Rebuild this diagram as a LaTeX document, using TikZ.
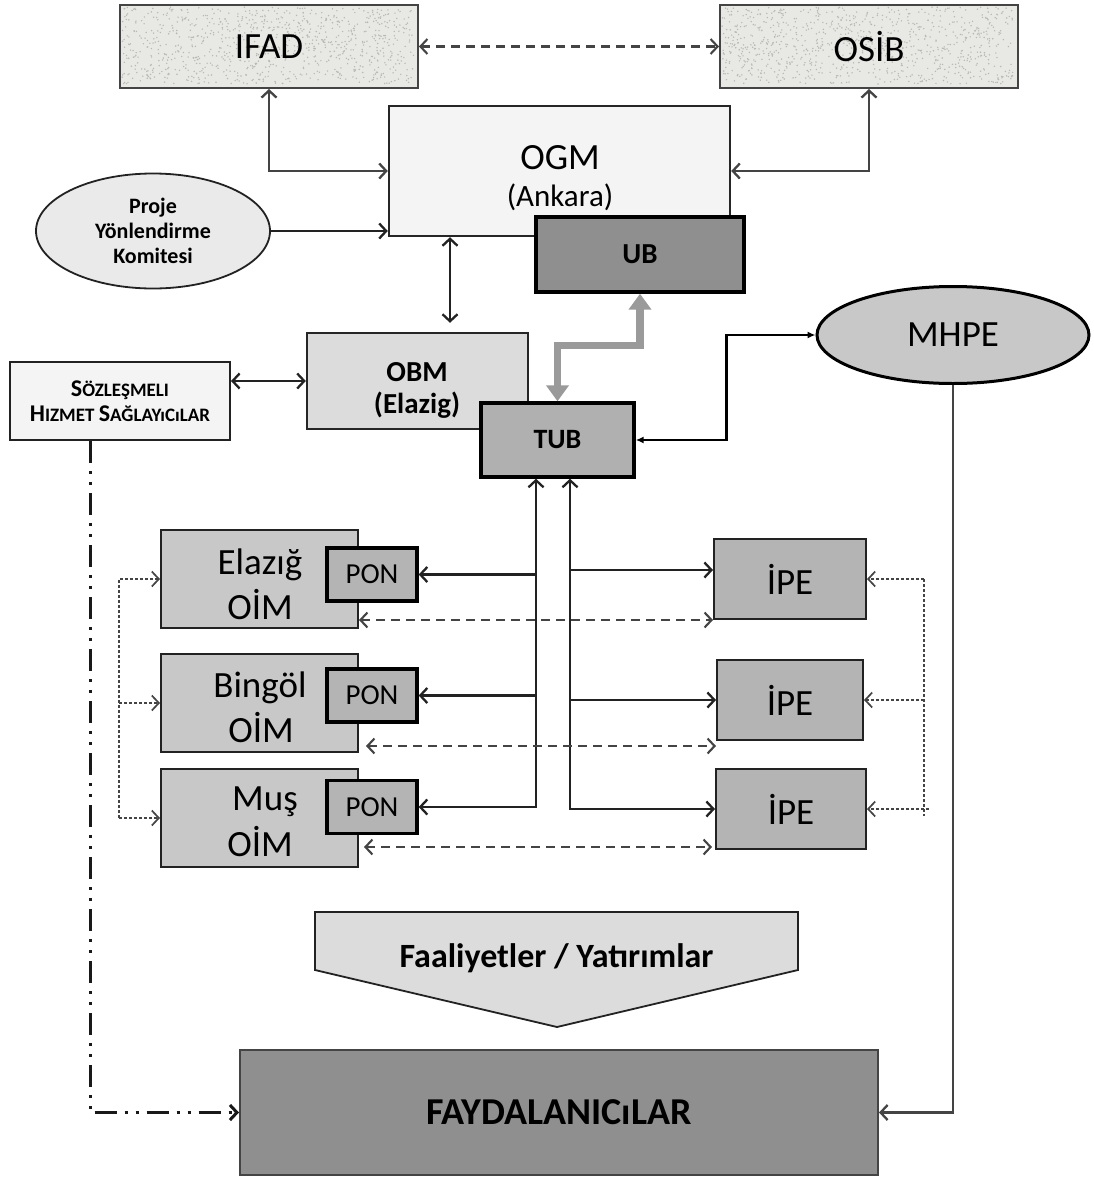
\documentclass[tikz,border=0pt]{standalone}
\usepackage{fontspec}
\setmainfont{Carlito}
\usetikzlibrary{arrows.meta,calc,shapes.geometric}
\definecolor{cifad}{HTML}{E8E8E4}
\definecolor{cogm}{HTML}{F4F4F4}
\definecolor{cub}{HTML}{8F8F8F}
\definecolor{cobm}{HTML}{DCDCDC}
\definecolor{ctub}{HTML}{B0B0B0}
\definecolor{coim}{HTML}{C8C8C8}
\definecolor{cpon}{HTML}{B4B4B4}
\definecolor{cipe}{HTML}{B4B4B4}
\definecolor{cfaal}{HTML}{DCDCDC}
\definecolor{cfayd}{HTML}{8F8F8F}
\definecolor{cfat}{HTML}{9A9A9A}
\definecolor{cline}{HTML}{222222}
\definecolor{cgline}{HTML}{444444}
\definecolor{cspeck}{HTML}{B8B8B4}
\begin{document}
\begin{tikzpicture}[x=1pt,y=-1pt,
  box/.style={draw=cline, rectangle, inner sep=0pt, align=center, line width=2pt},
  heavy/.style={draw=black, line width=3.4pt},
  big/.style={font=\fontsize{37}{40}\selectfont},
  mid/.style={font=\fontsize{37}{40}\selectfont},
  txt/.style={inner sep=0pt},
  ln/.style={draw=cline, line width=2.3pt},
  gln/.style={draw=cgline, line width=2.3pt},
  dashln/.style={draw=cgline, line width=2.1pt, dash pattern=on 9pt off 6pt},
  dotln/.style={draw=cgline, line width=1.7pt, dash pattern=on 3pt off 2pt},
  ar/.style={-{Straight Barb[length=7pt,width=15pt]}},
  arr/.style={{Straight Barb[length=7pt,width=15pt]}-{Straight Barb[length=7pt,width=15pt]}},
]
\useasboundingbox[fill=white] (0,0) rectangle (1094,1178);

% top boxes (textured)
\node[box, fill=cifad, draw=cgline, minimum width=298pt, minimum height=83pt] (ifad) at (269,46.5) {};
\node[box, fill=cifad, draw=cgline, minimum width=298pt, minimum height=83pt] (osib) at (869,46.5) {};
\pgfmathsetseed{11}
\foreach \k in {1,...,900}{
  \fill[cspeck] ($(ifad.north west)+(3+rnd*292,3+rnd*77)$) circle (0.8pt);
  \fill[cspeck] ($(osib.north west)+(3+rnd*292,3+rnd*77)$) circle (0.8pt);
}
\node[txt, big] (ifadt) at (ifad) {IFAD};
\node[txt, big] (osibt) at (osib) {OSİB};

% OGM and UB
\node[box, fill=cogm, draw=black!85, line width=2.4pt, minimum width=341pt, minimum height=130pt] (ogm) at (559.5,171) {};
\node[txt, font=\fontsize{37}{40}\selectfont] (ogmt1) at (560,158) {OGM};
\node[txt, font=\fontsize{31}{36}\selectfont] (ogmt2) at (560,197) {(Ankara)};
\node[box, heavy, fill=cub, minimum width=208pt, minimum height=75pt, font=\bfseries\fontsize{29}{32}\selectfont] (ub) at (640,254.5) {UB};

% Proje ellipse
\node[draw=cline, line width=1.8pt, ellipse, fill=cogm!60!cobm, minimum width=234pt, minimum height=115pt, inner sep=0pt, align=center, font=\bfseries\fontsize{22}{25}\selectfont] (proje) at (153,231) {Proje\\Yönlendirme\\Komitesi};

% OBM and TUB
\node[box, fill=cobm, draw=black!85, line width=2.4pt, minimum width=221pt, minimum height=96pt] (obm) at (417.5,381) {};
\node[txt, font=\bfseries\fontsize{29}{33}\selectfont] (obmt1) at (417,372) {OBM};
\node[txt, font=\bfseries\fontsize{29}{33}\selectfont] (obmt2) at (417,405) {(Elazig)};
\node[box, heavy, fill=ctub, minimum width=153pt, minimum height=74pt, font=\bfseries\fontsize{28}{32}\selectfont] (tub) at (557.5,440) {TUB};

% Sozlesmeli
\node[box, fill=cogm, minimum width=220pt, minimum height=78pt, font=\bfseries\fontsize{19}{25}\selectfont] (soz) at (120,401)
 {{\fontsize{24}{25}\selectfont S}ÖZLEŞMELI\\
  {\fontsize{24}{25}\selectfont H}IZMET {\fontsize{24}{25}\selectfont S}AĞLAYıCıLAR};

% MHPE
\node[draw=black, line width=3pt, ellipse, fill=coim, minimum width=272pt, minimum height=97pt, inner sep=0pt, big] (mhpe) at (953,335) {MHPE};

% OIM boxes
\node[box, fill=coim, minimum width=197pt, minimum height=98pt] (oim1) at (259.5,579) {};
\node[box, fill=coim, minimum width=197pt, minimum height=98pt] (oim2) at (259.5,703) {};
\node[box, fill=coim, minimum width=197pt, minimum height=98pt] (oim3) at (259.5,818) {};
\node[txt, mid] (t1a) at (260,565) {Elazığ};
\node[txt, mid] (t1b) at (260,605) {OİM};
\node[txt, mid] (t2a) at (260,688) {Bingöl};
\node[txt, mid] (t2b) at (261,728) {OİM};
\node[txt, mid] (t3a) at (265,802) {Muş};
\node[txt, mid] (t3b) at (260,842) {OİM};

% PON boxes
\node[box, heavy, fill=cpon, minimum width=90pt, minimum height=53pt, font=\fontsize{29}{32}\selectfont] (pon1) at (372,574.5) {PON};
\node[box, heavy, fill=cpon, minimum width=90pt, minimum height=53pt, font=\fontsize{29}{32}\selectfont] (pon2) at (372,695.5) {PON};
\node[box, heavy, fill=cpon, minimum width=90pt, minimum height=53pt, font=\fontsize{29}{32}\selectfont] (pon3) at (372,807) {PON};

% IPE boxes
\node[box, fill=cipe, minimum width=152pt, minimum height=80pt, mid] (ipe1) at (790,579) {İPE};
\node[box, fill=cipe, minimum width=146pt, minimum height=80pt, mid] (ipe2) at (790,700) {İPE};
\node[box, fill=cipe, minimum width=150pt, minimum height=80pt, mid] (ipe3) at (791,809) {İPE};

% Faaliyetler arrow shape
\coordinate (fa1) at (315,912);
\coordinate (fa2) at (798,912);
\coordinate (fa3) at (798,970);
\coordinate (fa4) at (557,1027);
\coordinate (fa5) at (315,970);
\draw[fill=cfaal, draw=cline, line width=1.8pt] (fa1) -- (fa2) -- (fa3) -- (fa4) -- (fa5) -- cycle;
\node[font=\bfseries\fontsize{34}{38}\selectfont, inner sep=0pt] (faal) at (556.5,958) {Faaliyetler / Yatırımlar};

% FAYDALANICILAR
\node[box, fill=cfayd, draw=cgline, minimum width=638pt, minimum height=125pt, font=\bfseries\fontsize{38}{42}\selectfont] (fayd) at (559,1112.5) {FAYDALANICıLAR};

% ---------- connectors ----------
\draw[dashln, arr] (ifad.east) -- (osib.west);
\draw[gln, arr] (ifad.south) |- (ogm.west);
\draw[gln, arr] (osib.south) |- (ogm.east);
\draw[ln, ar] (proje.east) -- (proje.east -| ogm.west);
\draw[ln, arr, shorten >=9pt] ([xshift=32.5pt]obm.north |- ogm.south) -- ([xshift=32.5pt]obm.north);
\draw[ln, arr] (soz.east |- obm.west) -- (obm.west);

% thick grey TUB <-> UB
\draw[draw=cfat, line width=7.5pt, {Triangle[length=16pt,width=22pt]}-{Triangle[length=16pt,width=22pt]}] (tub.north) -- ++(0,-56) -| (ub.south);

% TUB <-> MHPE
\draw[draw=black, line width=2.8pt, {Latex[length=8pt,width=7pt]}-{Latex[length=8pt,width=7pt]}] (tub.east) -- ++(91,0) |- (mhpe.west);

% MHPE -> FAYD
\draw[gln, ar] (mhpe.south) |- (fayd.east);

% Sozlesmeli -> FAYD dash-dot
\draw[draw=black!90, line width=3pt, dash pattern=on 22pt off 8pt on 3pt off 8pt on 3pt off 8pt, -{Straight Barb[length=7pt,width=15pt]}] ([xshift=-30pt]soz.south) |- (fayd.west);

% left bus TUB -> PON
\coordinate (lbus) at ([xshift=-21.5pt]tub.south);
\coordinate (rbus) at ([xshift=12.5pt]tub.south);
\draw[ln, arr] (pon3.east) -| (lbus);
\draw[ln, ar] (lbus |- pon1.east) -- (pon1.east);
\draw[ln, ar] (lbus |- pon2.east) -- (pon2.east);

% right bus TUB -> IPE
\draw[ln, arr] (ipe3.west) -| (rbus);
\draw[ln, ar] (rbus |- 0,570) -- (ipe1.west |- 0,570);
\draw[ln, ar] (rbus |- ipe2.west) -- (ipe2.west);

% dashed OIM <-> IPE
\draw[dashln, arr] (ipe1.south west -| oim1.east) -- (ipe1.south west);
\draw[dashln, arr, shorten <=7pt] ([yshift=-5pt]ipe2.south west -| oim2.east) -- ([yshift=-5pt]ipe2.south west);
\draw[dashln, arr, shorten <=5pt, shorten >=3pt] ([yshift=3pt]ipe3.south west -| oim3.east) -- ([yshift=3pt]ipe3.south west);

% left dotted feeder
\coordinate (lf) at ([xshift=-41pt]oim3.west);
\draw[dotln, ar] (lf) |- (oim1.west);
\draw[dotln, ar] (lf |- oim2.west) -- (oim2.west);
\draw[dotln, ar] (lf) -- (oim3.west);

% right dotted feeder
\coordinate (rf) at ([xshift=57pt]ipe1.east);
\draw[dotln] (rf) -- (rf |- 0,816);
\draw[dotln, ar] (rf) -- (ipe1.east);
\draw[dotln, ar] (rf |- ipe2.east) -- (ipe2.east);
\draw[dotln, ar] ([xshift=5pt]rf |- ipe3.east) -- (ipe3.east);
\end{tikzpicture}
\end{document}
